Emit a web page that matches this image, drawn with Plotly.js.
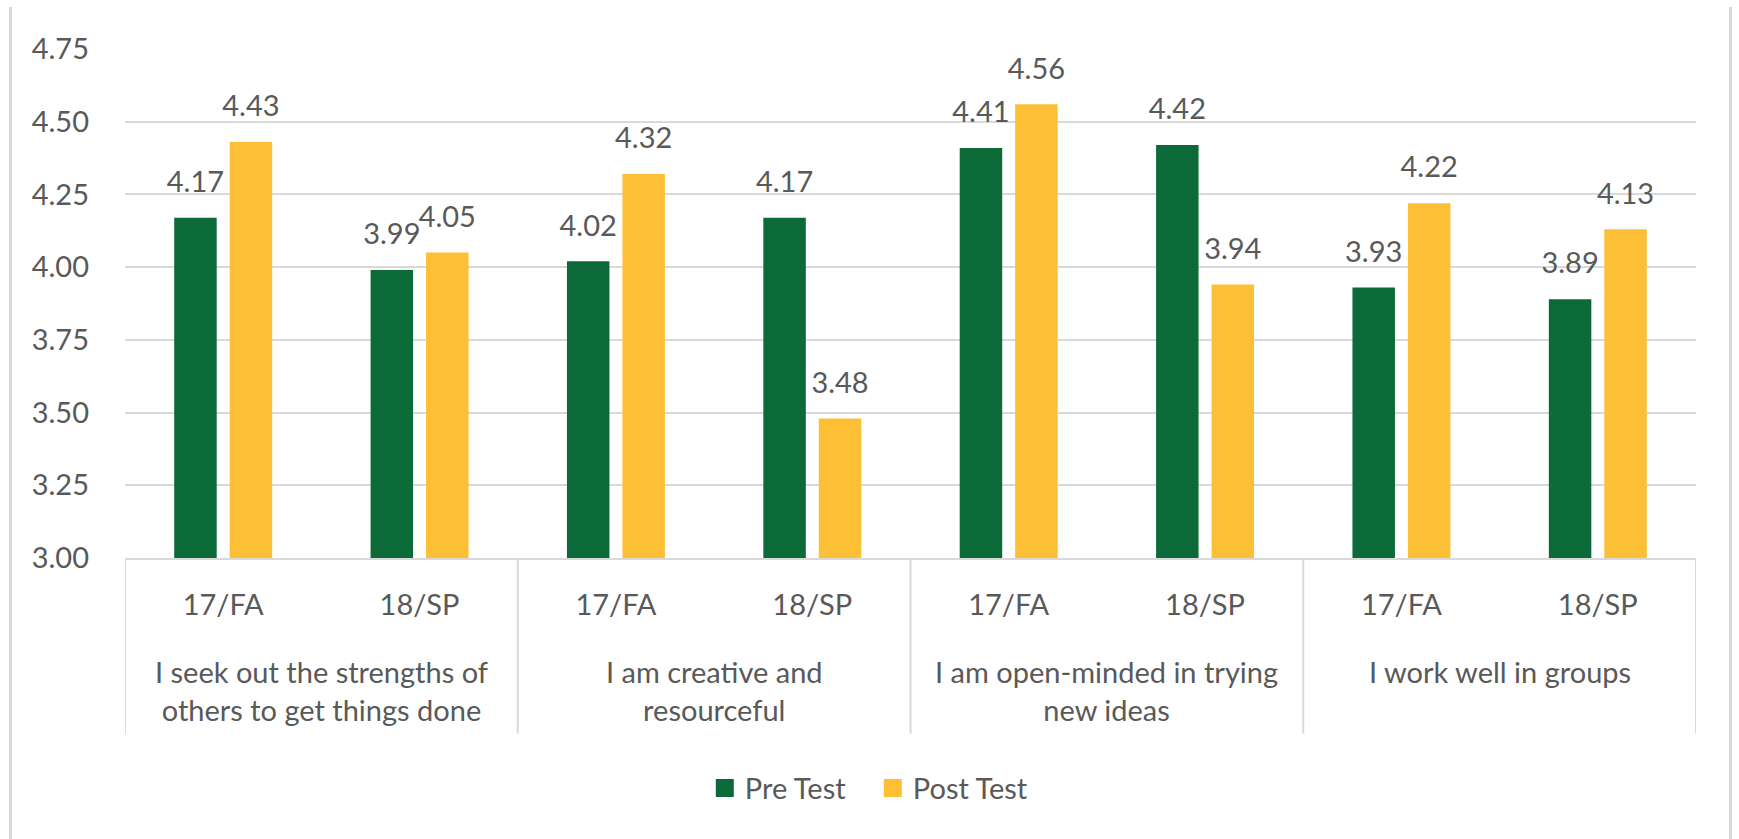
<!DOCTYPE html>
<html>
<head>
<meta charset="utf-8">
<script src="https://cdn.plot.ly/plotly-3.0.1.min.js"></script>
<style>
  html, body { margin: 0; padding: 0; background: #ffffff; }
  #chart { position: absolute; left: 0; top: 0; width: 1739px; height: 839px; }
  #frame {
    position: absolute; left: 9px; top: 7px; width: 1723px; height: 832px;
    border-left: 3px solid #d9d9d9; border-right: 3px solid #d9d9d9;
    box-sizing: border-box; pointer-events: none;
  }
  /* larger square swatches in the legend */
  #chart .legendpoints path { d: path("M9 9H-9V-9H9Z"); }
</style>
</head>
<body>
<div id="chart"></div>
<div id="frame"></div>
<script>
// Survey statements (one group of bars each) and semesters within each group
const statements = [
  "I seek out the strengths of<br>others to get things done",
  "I am creative and<br>resourceful",
  "I am open-minded in trying<br>new ideas",
  "I work well in groups"
];
const terms = ["17/FA", "18/SP"];

// Mean ratings, in statement order, 17/FA then 18/SP
const preTest  = [4.17, 3.99, 4.02, 4.17, 4.41, 4.42, 3.93, 3.89];
const postTest = [4.43, 4.05, 4.32, 3.48, 4.56, 3.94, 4.22, 4.13];

const seriesNames = ["Pre Test", "Post Test"];
const seriesColors = ["#0b6a37", "#fcbf35"];

// One slot per statement/semester pair
const slots = [], slotLabels = [];
statements.forEach((s, g) => terms.forEach((t, k) => {
  slots.push(g * terms.length + k);
  slotLabels.push(t);
}));

const FONT = "Lato, Carlito, 'Liberation Sans', sans-serif";
const GREY = "#595959";
const GRID = "#d9d9d9";
const GAP = 0.435;

const traces = [];
[preTest, postTest].forEach((vals, i) => {
  traces.push({
    type: "bar",
    name: seriesNames[i],
    x: slots,
    y: vals,
    offsetgroup: String(i),
    marker: { color: seriesColors[i], line: { width: 0 } },
    hoverinfo: "y+name"
  });
});
// Value labels placed above each bar
[preTest, postTest].forEach((vals, i) => {
  traces.push({
    type: "scatter",
    mode: "markers+text",
    x: slots,
    y: vals,
    offsetgroup: String(i),
    text: vals.map(v => v.toFixed(2)),
    textposition: "top center",
    textfont: { family: FONT, size: 29, color: GREY },
    marker: { size: 28, opacity: 0, color: seriesColors[i] },
    cliponaxis: false,
    showlegend: false,
    hoverinfo: "skip"
  });
});

// Statement names under each pair of semesters, with separators between groups
const annotations = statements.map((s, g) => ({
  xref: "x", yref: "paper",
  x: g * terms.length + (terms.length - 1) / 2,
  y: -0.184,
  xanchor: "center", yanchor: "top",
  text: s,
  showarrow: false,
  font: { family: FONT, size: 29, color: GREY }
}));
const shapes = [];
for (let g = 0; g <= statements.length; g++) {
  const xb = g * terms.length - 0.5;
  shapes.push({
    type: "line", xref: "x", yref: "paper",
    x0: xb, x1: xb, y0: 0, y1: -0.345,
    line: { color: GRID, width: 2 }
  });
}

const layout = {
  width: 1739,
  height: 839,
  paper_bgcolor: "#ffffff",
  plot_bgcolor: "#ffffff",
  margin: { l: 125, r: 43, t: 49, b: 281 },
  barmode: "group",
  bargap: GAP,
  bargroupgap: 0.234,
  scattermode: "group",
  scattergap: GAP,
  font: { family: FONT, size: 29, color: GREY },
  showlegend: true,
  legend: {
    orientation: "h",
    x: 0.476, xanchor: "center",
    y: -0.452, yanchor: "middle",
    entrywidth: 123,
    font: { family: FONT, size: 29, color: GREY }
  },
  annotations: annotations,
  shapes: shapes,
  xaxis: {
    range: [-0.5, slots.length - 0.5],
    tickmode: "array",
    tickvals: slots,
    ticktext: slotLabels,
    showline: true,
    linecolor: GRID,
    linewidth: 2,
    showgrid: false,
    zeroline: false,
    ticks: "",
    ticklabelstandoff: 20,
    tickfont: { family: FONT, size: 29, color: GREY }
  },
  yaxis: {
    range: [3, 4.75],
    dtick: 0.25,
    tick0: 3,
    tickformat: ".2f",
    showgrid: true,
    gridcolor: GRID,
    gridwidth: 2,
    zeroline: false,
    showline: false,
    ticks: "",
    ticklabelstandoff: 35,
    tickfont: { family: FONT, size: 29, color: GREY }
  }
};

Plotly.newPlot("chart", traces, layout, { displayModeBar: false, staticPlot: true });
</script>
</body>
</html>
